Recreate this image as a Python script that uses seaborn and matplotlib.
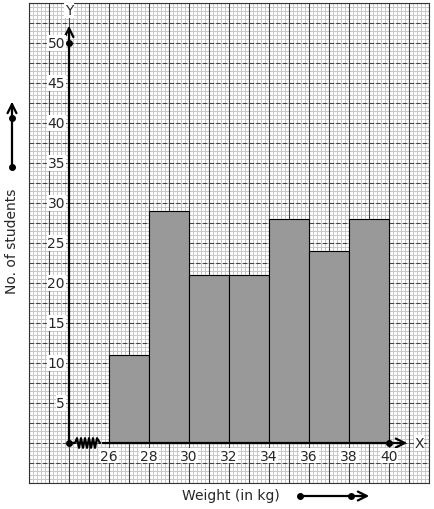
import numpy as np
import matplotlib
matplotlib.use('Agg')
import matplotlib.pyplot as plt
import seaborn as sns

# Datos del histograma
limite_inf = [26, 28, 30, 32, 34, 36, 38]
bordes = [26, 28, 30, 32, 34, 36, 38, 40]
alumnos = [11, 29, 21, 21, 28, 24, 28]
etiquetas_x = [26, 28, 30, 32, 34, 36, 38, 40]
etiquetas_y = [5, 10, 15, 20, 25, 30, 35, 40, 45, 50]

sns.set_style('white')
plt.rcParams['font.family'] = ['DejaVu Sans']

fig = plt.figure(figsize=(4.34, 5.10), dpi=100)
ax = fig.add_axes([29 / 434, 26 / 510, 400 / 434, 480 / 510])

# Histograma
sns.histplot(x=limite_inf, weights=alumnos, bins=bordes, color='#999999',
             edgecolor='black', linewidth=0.8, alpha=1, ax=ax, zorder=3)
ax.set_xlim(22, 42)
ax.set_ylim(-5, 55)
ax.set_xlabel('')
ax.set_ylabel('')
ax.set_xticks([])
ax.set_yticks([])
for s in ax.spines.values():
    s.set_color('#333333')
    s.set_linewidth(0.8)

# Papel milimetrado
for x in np.arange(22, 42.01, 0.2):
    ax.axvline(x, color='#c8c8c8', lw=0.7, zorder=0)
for y in np.arange(-5, 55.01, 0.5):
    ax.axhline(y, color='#c8c8c8', lw=0.7, zorder=0)
for x in np.arange(22, 42.01, 1):
    ax.axvline(x, color='#444444', lw=0.8, zorder=1)
for y in np.arange(-5, 55.01, 2.5):
    ax.axhline(y, color='#444444', lw=0.8, dashes=(4, 2), zorder=1)

# Ejes con flechas
flecha = dict(arrowstyle='->', lw=1.6, color='black', mutation_scale=16)
ax.annotate('', xy=(24, 52.5), xytext=(24, 0), arrowprops=flecha, zorder=5)
ax.annotate('', xy=(41.05, 0), xytext=(25.55, 0), arrowprops=flecha, zorder=5)
zx = [24, 24.3, 24.4, 24.5, 24.6, 24.7, 24.8, 24.9, 25.0, 25.1, 25.2, 25.3, 25.4, 25.55]
zy = [0, 0, 0.6, -0.6, 0.6, -0.6, 0.6, -0.6, 0.6, -0.6, 0.6, -0.6, 0.6, 0]
ax.plot(zx, zy, color='black', lw=1.6, zorder=5)
ax.plot([24, 24, 40], [50, 0, 0], 'o', color='black', ms=4, zorder=6)
ax.text(24, 54.1, 'Y', ha='center', va='center', fontsize=10, zorder=6,
        bbox=dict(facecolor='white', edgecolor='none', pad=0.5))
ax.text(41.5, 0, 'X', ha='center', va='center', fontsize=10, zorder=6,
        bbox=dict(facecolor='white', edgecolor='none', pad=0.5))

# Etiquetas de marcas
for v in etiquetas_x:
    ax.text(v, -1.6, str(v), ha='center', va='center', fontsize=10, zorder=6,
            bbox=dict(facecolor='white', edgecolor='none', pad=0.5))
for v in etiquetas_y:
    ax.text(23.8, v, str(v), ha='right', va='center', fontsize=10, zorder=6,
            bbox=dict(facecolor='white', edgecolor='none', pad=0.5))

# Títulos de ejes
fig.text(12 / 434, 1 - 241 / 510, 'No. of students', rotation=90,
         ha='center', va='center', fontsize=10)
fig.text(231 / 434, 1 - 496 / 510, 'Weight (in kg)', ha='center', va='center', fontsize=10)

# Flechas decorativas
fig.add_artist(plt.Line2D([12 / 434, 12 / 434], [342 / 510, 405 / 510], color='black', lw=1.6))
ax.annotate('', xy=(12, 410), xytext=(12, 395), xycoords='figure pixels', arrowprops=flecha)
fig.add_artist(plt.Line2D([12 / 434, 12 / 434], [342 / 510, 391 / 510], marker='o',
                          ls='none', color='black', ms=4))
fig.add_artist(plt.Line2D([300 / 434, 366 / 434], [13 / 510, 13 / 510], color='black', lw=1.6))
ax.annotate('', xy=(372, 13), xytext=(356, 13), xycoords='figure pixels', arrowprops=flecha)
fig.add_artist(plt.Line2D([300 / 434, 351 / 434], [13 / 510, 13 / 510], marker='o',
                          ls='none', color='black', ms=4))

fig.savefig('out.png', dpi=100)
